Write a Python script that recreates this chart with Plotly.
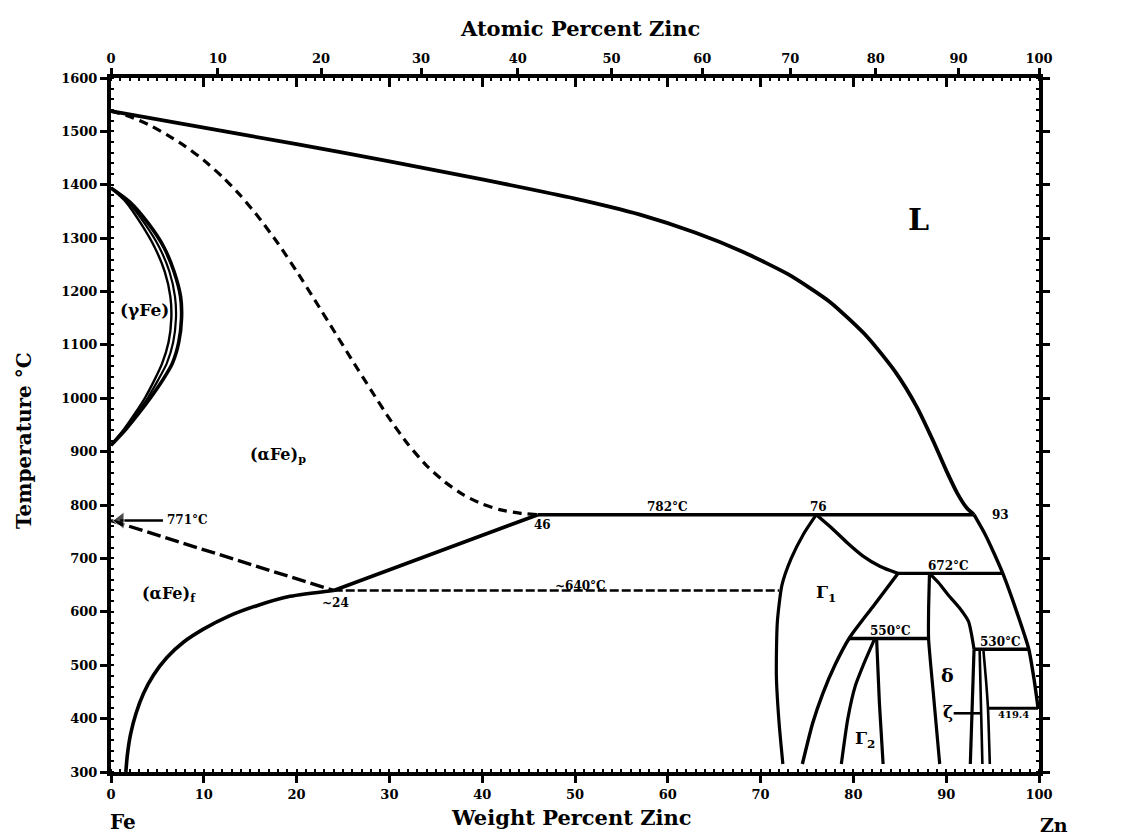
import plotly.graph_objects as go

# ---------------------------------------------------------------
# Fe-Zn phase diagram (weight percent Zn vs temperature, deg C)
# ---------------------------------------------------------------

FE_MASS, ZN_MASS = 55.845, 65.38

def at_to_wt(a):
    """Atomic percent Zn -> weight percent Zn."""
    return 100.0 * a * ZN_MASS / (a * ZN_MASS + (100.0 - a) * FE_MASS)

# axis ticks
wt_ticks = [0, 10, 20, 30, 40, 50, 60, 70, 80, 90, 100]
at_ticks = [0, 10, 20, 30, 40, 50, 60, 70, 80, 90, 100]
temp_ticks = [300, 400, 500, 600, 700, 800, 900, 1000, 1100, 1200, 1300, 1400, 1500, 1600]

# liquidus from pure Fe down to the 782 C peritectic
liq_x = [0, 10, 20, 30, 40, 50, 57, 63, 68, 73, 77.5, 81.5, 84.5, 86.8, 88.6, 90, 91.2, 92.2, 93]
liq_t = [1538, 1507, 1476, 1444, 1410, 1374, 1344, 1310, 1275, 1232, 1180, 1115, 1050, 985, 920, 865, 822, 795, 782]

# dashed (alpha Fe) boundary
adash_x = [0, 2, 4, 6, 8, 10, 12, 14, 16, 18, 20, 22, 24, 26, 28, 30, 32, 34, 36, 38, 40, 42, 44, 46]
adash_t = [1538, 1528, 1513, 1494, 1472, 1446, 1415, 1379, 1337, 1290, 1238, 1183, 1127, 1071,
           1016, 962, 914, 874, 843, 819, 802, 791, 785, 782]

# gamma loop (three boundaries)
g_out_x = [0, 2.0, 4.0, 5.7, 6.8, 7.5, 7.6, 7.3, 6.6, 5.6, 4.3, 3.0, 1.6, 0]
g_mid_x = [0, 1.8, 3.6, 5.2, 6.3, 6.9, 7.0, 6.7, 6.0, 5.1, 4.0, 2.8, 1.5, 0]
g_in_x = [0, 1.6, 3.2, 4.7, 5.8, 6.4, 6.5, 6.2, 5.5, 4.7, 3.7, 2.6, 1.4, 0]
g_t = [1394, 1368, 1328, 1283, 1237, 1190, 1150, 1105, 1065, 1035, 1002, 972, 942, 912]

# (alpha Fe) solvus, ferromagnetic branch
asol_x = [1.6, 1.75, 2.1, 2.7, 3.5, 4.6, 6.0, 7.8, 10, 12.7, 15.8, 19.3, 24]
asol_t = [300, 330, 370, 410, 447, 482, 514, 543, 568, 592, 612, 629, 640]

# (alpha Fe) solvus, paramagnetic branch
apar_x = [24, 46]
apar_t = [640, 782]

# magnetic transition line
curie_x = [0, 24]
curie_t = [771, 640]

# invariant / horizontal lines
h782_x, h782_t = [46, 93], [782, 782]
h640_x, h640_t = [24, 72], [640, 640]
h672_x, h672_t = [84.8, 96.1], [672, 672]
h550_x, h550_t = [79.6, 88.1], [550, 550]
h530_x, h530_t = [93.0, 98.9], [530, 530]
h419_x, h419_t = [94.5, 99.9], [419.4, 419.4]

# Gamma phase
gam_l_x = [76, 74.6, 73.3, 72.3, 71.8, 71.7, 72.0, 72.4]
gam_l_t = [782, 745, 700, 650, 580, 480, 390, 315]
gam_ru_x = [76, 77.6, 79.3, 81.0, 82.9, 84.8]
gam_ru_t = [782, 758, 730, 705, 685, 672]
gam_rl_x = [84.8, 82.2, 79.6, 78.0, 76.7, 75.6, 74.5]
gam_rl_t = [672, 612, 552, 500, 447, 391, 315]

# lower liquidus on the Zn side
liq2_x = [93, 94.2, 95.2, 96.1, 97.6, 98.9, 99.5, 99.9]
liq2_t = [782, 745, 708, 672, 600, 530, 470, 419.58]

# Gamma2 phase
g2_l_x = [82.3, 81.3, 80.2, 79.4, 78.7]
g2_l_t = [550, 510, 461, 400, 315]
g2_r_x = [82.5, 82.8, 83.2]
g2_r_t = [550, 430, 315]

# delta phase
d_l_x = [88.2, 88.1, 88.1, 88.6, 89.3]
d_l_t = [672, 600, 550, 450, 315]
d_r_x = [88.2, 89.2, 90.2, 91.4, 92.4, 93.0]
d_r_t = [672, 654, 632, 608, 582, 530]
d_r2_x = [93.0, 92.8, 92.6]
d_r2_t = [530, 420, 315]

# zeta phase
z_l_x = [93.6, 93.9]
z_l_t = [530, 315]
z_r_x = [94.0, 94.3, 94.5, 94.7]
z_r_t = [530, 470, 419.4, 315]

# Curie temperature pointer and zeta pointer
curie_ptr_x, curie_ptr_t = [1.0, 5.6], [771, 771]
zeta_ptr_x, zeta_ptr_t = [90.8, 93.8], [410, 410]

FONT = "DejaVu Serif"
INK = "black"

fig = go.Figure()

def curve(x, y, width=3.5, dash="solid", smooth=0.6):
    fig.add_trace(go.Scatter(x=x, y=y, mode="lines", showlegend=False, hoverinfo="skip",
                             line=dict(color=INK, width=width, dash=dash, shape="spline",
                                       smoothing=smooth)))

def straight(x, y, width=3.5, dash="solid"):
    fig.add_trace(go.Scatter(x=x, y=y, mode="lines", showlegend=False, hoverinfo="skip",
                             line=dict(color=INK, width=width, dash=dash)))

curve(liq_x, liq_t, 3.8)
curve(adash_x, adash_t, 3.2, "9px,6px")
curve(g_out_x, g_t, 3.6)
curve(g_mid_x, g_t, 2.2)
curve(g_in_x, g_t, 2.4)
curve(asol_x, asol_t, 3.6)
straight(apar_x, apar_t, 3.6)
straight(curie_x, curie_t, 3.4, "14px,5px")
straight(h782_x, h782_t, 3.6)
straight(h640_x, h640_t, 2.4, "9px,3px")
curve(gam_l_x, gam_l_t, 3.2)
curve(gam_ru_x, gam_ru_t, 3.4)
curve(gam_rl_x, gam_rl_t, 3.4)
straight(h672_x, h672_t, 3.4)
curve(liq2_x, liq2_t, 3.4)
straight(h550_x, h550_t, 3.4)
curve(g2_l_x, g2_l_t, 3.2)
straight(g2_r_x, g2_r_t, 3.2)
curve(d_l_x, d_l_t, 3.2)
curve(d_r_x, d_r_t, 3.2)
straight(d_r2_x, d_r2_t, 3.2)
straight(h530_x, h530_t, 3.4)
straight(z_l_x, z_l_t, 2.6)
curve(z_r_x, z_r_t, 2.6)
straight(h419_x, h419_t, 3.2)

# arrow pointing at the Curie temperature of pure Fe
fig.add_trace(go.Scatter(x=curie_ptr_x, y=curie_ptr_t, mode="lines+markers", showlegend=False,
                         hoverinfo="skip", line=dict(color=INK, width=2.6),
                         marker=dict(symbol=["triangle-left", "circle"], size=[15, 0], color=INK)))
straight(zeta_ptr_x, zeta_ptr_t, 2.6)

# carriers for the secondary axes
fig.add_trace(go.Scatter(x=[], y=[], xaxis="x2", yaxis="y", showlegend=False))
fig.add_trace(go.Scatter(x=[], y=[], xaxis="x3", yaxis="y", showlegend=False))
fig.add_trace(go.Scatter(x=[], y=[], xaxis="x", yaxis="y2", showlegend=False))

tickfont = dict(family=FONT, size=13, color=INK, weight="bold")
minor_x = dict(ticks="inside", dtick=1, ticklen=3, tickwidth=1.5, tickcolor=INK, showgrid=False)
minor_y = dict(ticks="inside", dtick=20, ticklen=3, tickwidth=1.5, tickcolor=INK, showgrid=False)

fig.update_layout(
    width=1124, height=840,
    margin=dict(l=111, r=85, t=78, b=68),
    paper_bgcolor="white", plot_bgcolor="white",
    showlegend=False,
    xaxis=dict(range=[0, 100], showgrid=False, zeroline=False, showline=True, linewidth=4,
               linecolor=INK, ticks="outside", ticklen=7, tickwidth=2.5, tickcolor=INK,
               tickvals=wt_ticks, ticktext=[str(v) for v in wt_ticks], tickfont=tickfont,
               minor=minor_x),
    xaxis2=dict(range=[0, 100], overlaying="x", side="top", showgrid=False, zeroline=False,
                showline=True, linewidth=4, linecolor=INK, ticks="outside", ticklen=6,
                tickwidth=2.5, tickcolor=INK, tickvals=[at_to_wt(a) for a in at_ticks],
                ticktext=[str(a) for a in at_ticks], tickfont=tickfont, minor=minor_x),
    xaxis3=dict(range=[0, 100], overlaying="x", side="top", showgrid=False, zeroline=False,
                showline=False, ticks="inside", ticklen=9, tickwidth=2.5, tickcolor=INK,
                tickvals=wt_ticks, showticklabels=False),
    yaxis=dict(range=[300, 1600], showgrid=False, zeroline=False, showline=True, linewidth=4,
               linecolor=INK, ticks="outside", ticklen=7, tickwidth=2.5, tickcolor=INK,
               tickvals=temp_ticks, ticktext=[str(v) for v in temp_ticks], tickfont=tickfont,
               minor=minor_y),
    yaxis2=dict(range=[300, 1600], overlaying="y", side="right", showgrid=False, zeroline=False,
                showline=True, linewidth=4, linecolor=INK, ticks="outside", ticklen=7,
                tickwidth=2.5, tickcolor=INK, tickvals=temp_ticks, showticklabels=False,
                minor=minor_y),
)

def label(text, x, y, size=14, xanchor="center", yanchor="middle", xref="x", yref="y", angle=0):
    fig.add_annotation(text=text, x=x, y=y, xref=xref, yref=yref, showarrow=False,
                       xanchor=xanchor, yanchor=yanchor, textangle=angle,
                       font=dict(family=FONT, size=size, color=INK, weight="bold"))

# axis titles and element symbols
label("Atomic Percent Zinc", 0.505, 1.072, size=21, xref="paper", yref="paper")
label("Weight Percent Zinc", 0.496, -0.065, size=21, xref="paper", yref="paper")
label("Temperature °C", -0.093, 0.478, size=20, xref="paper", yref="paper", angle=-90)
label("Fe", 0.013, -0.072, size=20, xref="paper", yref="paper")
label("Zn", 1.016, -0.077, size=19, xref="paper", yref="paper")

# temperatures of pure Fe / Zn transformations
label("1538°C", -1.0, 1538, size=12, xanchor="right")
label("1394°C", -1.0, 1374, size=12, xanchor="right")
label("912°C", -1.0, 930, size=12, xanchor="right")
label("419.58°C", 100.9, 415, size=12, xanchor="left")

# phase fields
label("L", 87, 1335, size=30)
label("(γFe)", 3.6, 1165, size=17)
label("(αFe)<sub>p</sub>", 18, 893, size=16)
label("(αFe)<sub>f</sub>", 6.2, 632, size=16)
label("Γ<sub>1</sub>", 77, 635, size=17)
label("Γ<sub>2</sub>", 81.3, 360, size=17)
label("δ", 90.1, 482, size=19)
label("ζ", 90.2, 412, size=17)

# invariant temperatures and compositions
label("782°C", 60, 796, size=12)
label("46", 46.5, 762, size=12)
label("76", 76.2, 796, size=12)
label("93", 95.8, 782, size=12)
label("~24", 24.2, 616, size=12)
label("~640°C", 50.6, 648, size=12)
label("672°C", 90.2, 686, size=12)
label("550°C", 84.0, 564, size=12)
label("530°C", 95.8, 544, size=12)
label("419.4", 97.3, 407, size=10)
label("771°C", 5.8, 772, size=12, xanchor="left")

fig.write_html("out.html")
